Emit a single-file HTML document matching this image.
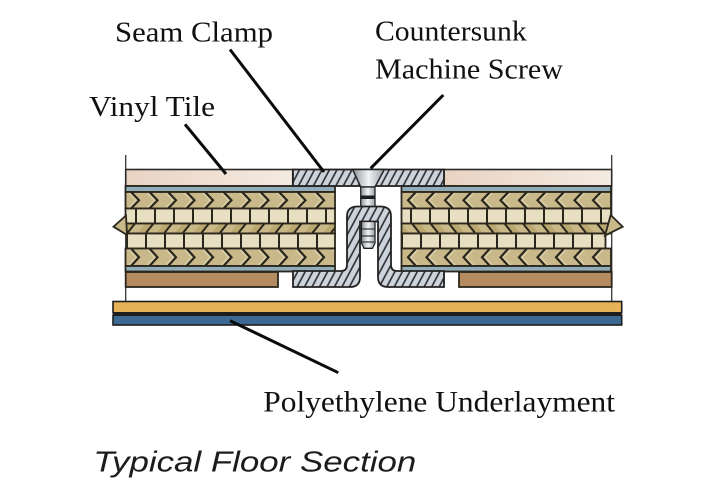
<!DOCTYPE html>
<html><head><meta charset="utf-8"><style>
html,body{margin:0;padding:0;background:#fff;}
svg{display:block;}
</style></head><body>
<svg width="720" height="500" viewBox="0 0 720 500" xmlns="http://www.w3.org/2000/svg">
<defs>
  <linearGradient id="tileG" x1="0" x2="1" y1="0" y2="0">
    <stop offset="0" stop-color="#e9d3c3"/><stop offset="1" stop-color="#f5ebe2"/>
  </linearGradient>
  <linearGradient id="steel" x1="0" x2="1" y1="0" y2="0">
    <stop offset="0" stop-color="#8e959c"/><stop offset="0.5" stop-color="#f2f3f4"/><stop offset="1" stop-color="#9aa1a8"/>
  </linearGradient>
  <pattern id="hatch" patternUnits="userSpaceOnUse" width="6.6" height="6.6" patternTransform="rotate(28)">
    <rect width="6.6" height="6.6" fill="#cdd3da"/>
    <line x1="1" y1="0" x2="1" y2="6.6" stroke="#2a2d30" stroke-width="1.6"/>
  </pattern>
  <pattern id="chL1" patternUnits="userSpaceOnUse" x="127" y="192" width="18.5" height="16.5">
    <rect width="18.5" height="16.5" fill="#c9b88a"/>
    <polygon points="0,0 4,0 12,8.25 4,16.5 0,16.5 8,8.25" fill="#d9cda6"/>
    <polyline points="4,0 12,8.25 4,16.5" fill="none" stroke="#2a261c" stroke-width="2.2"/>
  </pattern>
  <pattern id="chL3" patternUnits="userSpaceOnUse" x="127" y="248.5" width="18.5" height="17.5">
    <rect width="18.5" height="17.5" fill="#c9b88a"/>
    <polygon points="0,0 4,0 12,8.75 4,17.5 0,17.5 8,8.75" fill="#d9cda6"/>
    <polyline points="4,0 12,8.75 4,17.5" fill="none" stroke="#2a261c" stroke-width="2.2"/>
  </pattern>
  <pattern id="chR1" patternUnits="userSpaceOnUse" x="401.5" y="192" width="18.5" height="16.5">
    <rect width="18.5" height="16.5" fill="#c9b88a"/>
    <polygon points="18.5,0 14.5,0 6.5,8.25 14.5,16.5 18.5,16.5 10.5,8.25" fill="#d9cda6"/>
    <polyline points="14.5,0 6.5,8.25 14.5,16.5" fill="none" stroke="#2a261c" stroke-width="2.2"/>
  </pattern>
  <pattern id="chR3" patternUnits="userSpaceOnUse" x="401.5" y="248.5" width="18.5" height="17.5">
    <rect width="18.5" height="17.5" fill="#c9b88a"/>
    <polygon points="18.5,0 14.5,0 6.5,8.75 14.5,17.5 18.5,17.5 10.5,8.75" fill="#d9cda6"/>
    <polyline points="14.5,0 6.5,8.75 14.5,17.5" fill="none" stroke="#2a261c" stroke-width="2.2"/>
  </pattern>
  <pattern id="brA" patternUnits="userSpaceOnUse" x="135" y="208.5" width="19" height="15">
    <rect width="19" height="15" fill="#e8dec1"/>
    <line x1="1" y1="0" x2="1" y2="15" stroke="#2a261c" stroke-width="2"/>
  </pattern>
  <pattern id="brB" patternUnits="userSpaceOnUse" x="126" y="233.5" width="19" height="15">
    <rect width="19" height="15" fill="#e8dec1"/>
    <line x1="1" y1="0" x2="1" y2="15" stroke="#2a261c" stroke-width="2"/>
  </pattern>
  <pattern id="brC" patternUnits="userSpaceOnUse" x="410" y="208.5" width="19" height="15">
    <rect width="19" height="15" fill="#e8dec1"/>
    <line x1="1" y1="0" x2="1" y2="15" stroke="#2a261c" stroke-width="2"/>
  </pattern>
  <pattern id="brD" patternUnits="userSpaceOnUse" x="401" y="233.5" width="19" height="15">
    <rect width="19" height="15" fill="#e8dec1"/>
    <line x1="1" y1="0" x2="1" y2="15" stroke="#2a261c" stroke-width="2"/>
  </pattern>
  <pattern id="midL" patternUnits="userSpaceOnUse" x="127" y="223.5" width="18.5" height="10">
    <rect width="18.5" height="10" fill="#bba871"/>
    <polygon points="0,10 8,0 18.5,0 10.5,10" fill="#c9b888"/>
    <line x1="0" y1="10" x2="8" y2="0" stroke="#2a261c" stroke-width="2"/>
  </pattern>
  <pattern id="midR" patternUnits="userSpaceOnUse" x="401.5" y="223.5" width="18.5" height="10">
    <rect width="18.5" height="10" fill="#bba871"/>
    <polygon points="18.5,10 10.5,0 0,0 8,10" fill="#c9b888"/>
    <line x1="18.5" y1="10" x2="10.5" y2="0" stroke="#2a261c" stroke-width="2"/>
  </pattern>
</defs>

<rect x="113" y="301.5" width="508.7" height="11.3" fill="#e8b358" stroke="#1d1d1d" stroke-width="1.6"/>
<rect x="113" y="312.8" width="508.7" height="2.4" fill="#1d1d1d"/>
<rect x="113" y="315.2" width="508.7" height="9.8" fill="#3c6893" stroke="#1d1d1d" stroke-width="1.6"/>

<line x1="125.7" y1="155" x2="125.7" y2="301" stroke="#333" stroke-width="1.3"/>
<line x1="611.7" y1="155" x2="611.7" y2="301" stroke="#333" stroke-width="1.3"/>

<rect x="125.7" y="169.5" width="167" height="16.5" fill="url(#tileG)" stroke="#2a2a2a" stroke-width="1.6"/>
<rect x="444" y="169.5" width="167.7" height="16.5" fill="url(#tileG)" stroke="#2a2a2a" stroke-width="1.6"/>

<g stroke="#2a261c" stroke-width="1.8">
  <rect x="125.5" y="186" width="209.5" height="6" fill="#90adb9"/>
  <rect x="125.5" y="192" width="209.5" height="16.5" fill="url(#chL1)"/>
  <rect x="125.5" y="208.5" width="209.5" height="15" fill="url(#brA)"/>
  <rect x="125.5" y="223.5" width="209.5" height="10" fill="url(#midL)"/>
  <rect x="127" y="233.5" width="208" height="15" fill="url(#brB)"/>
  <rect x="125.5" y="248.5" width="209.5" height="17.5" fill="url(#chL3)"/>
  <rect x="125.5" y="266" width="209.5" height="5.5" fill="#90adb9"/>
  <polygon points="126,215.5 113.5,226.7 127,235" fill="#c9b888"/>
  <rect x="125.7" y="272" width="152.3" height="15" fill="#b58c60"/>
</g>

<g stroke="#2a261c" stroke-width="1.8">
  <rect x="401.5" y="186" width="209.5" height="6" fill="#90adb9"/>
  <rect x="401.5" y="192" width="209.5" height="16.5" fill="url(#chR1)"/>
  <rect x="401.5" y="208.5" width="209.5" height="15" fill="url(#brC)"/>
  <rect x="401.5" y="223.5" width="209.5" height="10" fill="url(#midR)"/>
  <rect x="401.5" y="233.5" width="204" height="15" fill="url(#brD)"/>
  <rect x="401.5" y="248.5" width="209.5" height="17.5" fill="url(#chR3)"/>
  <rect x="401.5" y="266" width="209.5" height="5.5" fill="#90adb9"/>
  <polygon points="610.7,215 622.7,226.7 605,235.5" fill="#c9b888"/>
  <rect x="459" y="272" width="152.7" height="15" fill="#b58c60"/>
</g>

<rect x="293" y="169.5" width="151" height="16.5" fill="url(#hatch)" stroke="#222" stroke-width="1.8"/>

<polygon points="352.7,169.5 384.3,169.5 375,187 360.7,187" fill="url(#steel)" stroke="#222" stroke-width="1.5"/>
<rect x="360.7" y="187" width="14.3" height="20" fill="url(#steel)" stroke="#222" stroke-width="1.3"/>
<rect x="360.7" y="195.5" width="14.3" height="3.5" fill="#1e1e1e"/>

<path d="M293,271 L341,271 Q347,271 347,265 L347,216 Q347,206.5 358,206.5 L380,206.5 Q391,206.5 391,216 L391,265 Q391,271 397,271 L444,271 L444,287 L388,287 Q378,287 378,277 L378,221.5 L360,221.5 L360,277 Q360,287 350,287 L293,287 Z" fill="url(#hatch)" stroke="#222" stroke-width="1.8"/>

<path d="M361.5,221.5 L375,221.5 L375,243 L372.5,248.3 L364,248.3 L361.5,243 Z" fill="url(#steel)" stroke="#222" stroke-width="1.3"/>
<line x1="361.5" y1="229" x2="375" y2="229" stroke="#333" stroke-width="1.2"/>
<line x1="361.5" y1="236" x2="375" y2="236" stroke="#333" stroke-width="1.2"/>
<line x1="361.5" y1="242" x2="375" y2="242" stroke="#333" stroke-width="1.2"/>

<g stroke="#0a0a0a" stroke-width="3" stroke-linecap="butt">
  <line x1="230" y1="49.5" x2="324" y2="172"/>
  <line x1="185" y1="124.3" x2="226" y2="174"/>
  <line x1="443.3" y1="95" x2="370.7" y2="168.3"/>
  <line x1="230" y1="320.7" x2="338.3" y2="372.7"/>
</g>

<g font-family="'Liberation Serif', 'Times New Roman', serif" fill="#111">
  <text x="115" y="41.7" font-size="28.5" textLength="158" lengthAdjust="spacingAndGlyphs">Seam Clamp</text>
  <text x="89" y="116" font-size="28.5" textLength="126" lengthAdjust="spacingAndGlyphs">Vinyl Tile</text>
  <text x="375" y="40.7" font-size="28.5" textLength="151.7" lengthAdjust="spacingAndGlyphs">Countersunk</text>
  <text x="375" y="78.3" font-size="28.5" textLength="188" lengthAdjust="spacingAndGlyphs">Machine Screw</text>
  <text x="263.3" y="411.7" font-size="30" textLength="351.7" lengthAdjust="spacingAndGlyphs">Polyethylene Underlayment</text>
</g>
<text x="93.3" y="471.7" font-family="'Liberation Sans', Arial, sans-serif" font-style="italic" font-size="29" fill="#1c1c1c" textLength="323" lengthAdjust="spacingAndGlyphs">Typical Floor Section</text>
</svg>
</body></html>
